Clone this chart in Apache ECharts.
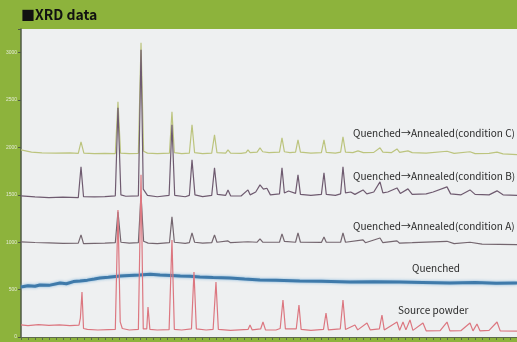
<!DOCTYPE html>
<html>
<head>
<meta charset="utf-8">
<script src="https://cdn.jsdelivr.net/npm/echarts@6/dist/echarts.min.js"></script>
<style>
  html, body { margin: 0; padding: 0; background: #8db33c; }
  #chart { width: 517px; height: 342px; }
</style>
</head>
<body>
<div id="chart"></div>
<script>
// 2θ (deg) / intensity (counts) pairs
const annealedC = [
  [10, 1975], [11.5, 1950], [13, 1943], [15, 1940], [17, 1943], [18.2, 1938], [18.59, 2059], [19, 1940],
  [20.5, 1935], [22, 1938], [23.5, 1935], [23.88, 2482], [24.25, 1940], [25.5, 1935], [26.8, 1938],
  [27.18, 3105], [27.55, 1960], [27.75, 1975], [28.1, 1940], [29.5, 1935], [31.25, 1940], [31.61, 2376],
  [31.95, 1945], [33, 1935], [34.1, 1940], [34.48, 2239], [34.85, 1945], [36, 1935], [37.3, 1940],
  [37.7, 2133], [38.05, 1945], [39.3, 1940], [39.63, 1975], [40, 1940], [41.5, 1938], [42.2, 1945],
  [42.49, 1975], [42.8, 1945], [43.8, 1950], [44.21, 1996], [44.6, 1955], [45.5, 1945], [47, 1950],
  [47.36, 2101], [47.7, 1955], [48.5, 1945], [49.3, 1950], [49.65, 2080], [50, 1950], [51.5, 1940],
  [53, 1945], [53.37, 2080], [53.7, 1948], [55, 1940], [55.75, 1950], [56.09, 2112], [56.45, 1950],
  [57.5, 1945], [58.24, 1964], [59, 1945], [60.5, 1948], [61.39, 1996], [61.8, 1950], [63, 1945],
  [63.82, 1985], [64.2, 1948], [65.39, 1964], [66, 1945], [68, 1940], [70.98, 1960], [72, 1938],
  [74.27, 1955], [75, 1935], [77, 1938], [78.14, 1950], [79, 1932], [81, 1925]
];
const annealedB = [
  [10, 1489], [12, 1478], [14, 1470], [16, 1475], [18.2, 1470], [18.59, 1795], [18.95, 1480], [20.5, 1478],
  [22, 1482], [23.5, 1490], [23.88, 2418], [24.3, 1500], [25, 1485], [26.8, 1490], [27.18, 3031],
  [27.5, 1560], [27.75, 1573], [28.1, 1495], [29.5, 1480], [31.2, 1495], [31.61, 2239], [32, 1495],
  [33.5, 1480], [34.1, 1495], [34.48, 1869], [34.9, 1500], [36, 1482], [37.3, 1495], [37.7, 1785],
  [38.1, 1505], [39.3, 1495], [39.63, 1552], [40, 1490], [41.5, 1488], [42.49, 1552], [42.8, 1500],
  [43.6, 1530], [44.21, 1605], [44.7, 1560], [45.2, 1570], [45.7, 1500], [47, 1510], [47.36, 1785],
  [47.7, 1520], [48.3, 1540], [49.3, 1515], [49.65, 1711], [50, 1505], [51.5, 1495], [53, 1505],
  [53.37, 1732], [53.7, 1505], [55, 1495], [55.75, 1510], [56.09, 1795], [56.45, 1520], [57.2, 1530],
  [57.8, 1505], [58.96, 1552], [59.5, 1510], [60.5, 1530], [61.39, 1637], [61.8, 1520], [62.5, 1530],
  [63.82, 1573], [64.3, 1515], [65.39, 1563], [66, 1505], [68, 1510], [69, 1530], [70.98, 1584],
  [71.5, 1510], [73, 1500], [74.27, 1552], [75, 1505], [77, 1500], [78.14, 1542], [79, 1500], [81, 1495]
];
const annealedA = [
  [10, 1003], [12, 997], [14, 993], [16, 988], [18.2, 990], [18.59, 1077], [18.95, 985], [20.5, 988],
  [22, 990], [23.5, 995], [23.88, 1320], [24.3, 1000], [25.5, 990], [26.8, 995], [27.18, 1500],
  [27.55, 1010], [28.2, 990], [29.5, 985], [31.25, 995], [31.61, 1267], [31.95, 1000], [33.5, 988],
  [34.1, 995], [34.48, 1098], [34.85, 1000], [36, 990], [37.3, 995], [37.7, 1077], [38.05, 1000],
  [39.63, 1014], [40, 995], [42.49, 1005], [43.8, 1000], [44.21, 1035], [44.6, 1000], [47, 1000],
  [47.36, 1088], [47.7, 1010], [49.3, 1000], [49.65, 1098], [50, 1000], [53, 998], [53.37, 1056],
  [53.7, 1000], [55.75, 1000], [56.09, 1098], [56.45, 1000], [58.96, 1024], [59.3, 995], [61.39, 1045],
  [61.8, 995], [63.82, 1014], [64.2, 990], [66, 995], [70.98, 1010], [72, 985], [74.27, 1000], [76, 980],
  [81, 975]
];
const quenched = [
  [10, 528], [11, 540], [12, 535], [12.7, 549], [14, 545], [15.6, 570], [16.5, 562], [17.5, 585],
  [18.45, 591], [19.5, 600], [20.5, 612], [21.3, 623], [22.5, 630], [24.2, 644], [25.5, 650],
  [27, 655], [28.5, 662], [29.9, 655], [31.5, 650], [32.8, 644], [34.2, 640], [35.6, 634], [37.5, 628],
  [39.9, 623], [42, 612], [44.2, 602], [46.5, 598], [49.9, 591], [53, 588], [57.1, 581], [60.5, 584],
  [64.2, 581], [67.5, 576], [71.4, 570], [75, 574], [78, 568], [81, 570]
];
const sourcePowder = [
  [10, 127], [11, 120], [12.5, 130], [14, 122], [15.5, 127], [17, 120], [18.3, 125], [18.5, 200],
  [18.73, 475], [18.95, 90], [19.5, 80], [21, 74], [22.5, 78], [23.5, 80], [23.88, 1341], [24.2, 160],
  [24.5, 90], [25.5, 74], [26.8, 80], [27.18, 1711], [27.5, 85], [28, 85], [28.18, 317], [28.45, 80],
  [29.5, 74], [31.2, 78], [31.61, 1024], [31.95, 80], [33, 74], [34.4, 85], [34.76, 686], [35.1, 85],
  [36.5, 74], [37.5, 80], [37.91, 581], [38.25, 80], [40, 70], [42.5, 80], [42.78, 127], [43.1, 75],
  [44.3, 85], [44.64, 158], [45, 75], [46.5, 74], [47.1, 90], [47.5, 391], [47.85, 85], [49.4, 85],
  [49.79, 338], [50.1, 80], [51.5, 70], [53.3, 80], [53.66, 253], [54, 75], [55.7, 85], [56.09, 391],
  [56.45, 80], [57.8, 127], [58.2, 75], [59.53, 148], [60, 75], [61.3, 85], [61.67, 232], [62, 75],
  [63.82, 158], [64.2, 70], [64.68, 158], [65.1, 75], [65.68, 180], [66.1, 70], [67.54, 148], [68, 65],
  [70, 68], [70.98, 158], [71.4, 65], [73, 68], [74.27, 148], [74.7, 65], [75.27, 137], [75.7, 65],
  [77, 70], [78.14, 158], [78.6, 65], [81, 63]
];
const seriesNames = [
  'Quenched→Annealed(condition C)',
  'Quenched→Annealed(condition B)',
  'Quenched→Annealed(condition A)',
  'Quenched',
  'Source powder'
];
const yTicks = [0, 500, 1000, 1500, 2000, 2500, 3000];

const chart = echarts.init(document.getElementById('chart'), null, { renderer: 'canvas' });

const lineSeries = (name, data, color, width, extra) => ({
  name,
  type: 'line',
  data,
  showSymbol: false,
  silent: true,
  lineStyle: Object.assign({ color, width }, extra || {})
});

const labelFont = '10px "Noto Sans CJK JP", "Noto Sans", sans-serif';
const seriesLabel = (text, x, y) => ({
  type: 'text',
  left: x,
  top: y,
  style: { text, font: labelFont, fill: '#2a2a2a' }
});

chart.setOption({
  animation: false,
  backgroundColor: '#8db33c',
  grid: {
    left: 21,
    right: 0,
    top: 29,
    bottom: 5,
    show: true,
    backgroundColor: '#eef0f1',
    borderWidth: 0
  },
  xAxis: {
    type: 'value',
    min: 10,
    max: 81,
    interval: 1,
    axisLine: { show: true, lineStyle: { color: '#5d6b4a', width: 1 } },
    axisTick: { show: true, length: 3, lineStyle: { color: '#5d6b4a' } },
    axisLabel: { show: false },
    splitLine: { show: false }
  },
  yAxis: {
    type: 'value',
    min: 0,
    max: 3250,
    interval: 500,
    axisLine: { show: true, lineStyle: { color: '#4f5a45', width: 1.5 } },
    axisTick: { show: true, length: 3, lineStyle: { color: '#4f5a45' } },
    axisLabel: {
      fontSize: 5,
      color: '#e4ead6',
      margin: 4,
      formatter: (v) => (yTicks.includes(v) ? String(v) : '')
    },
    splitLine: { show: false }
  },
  series: [
    lineSeries(seriesNames[0], annealedC, '#bcc47e', 1.2),
    lineSeries(seriesNames[1], annealedB, '#6f5b70', 1.2),
    lineSeries(seriesNames[2], annealedA, '#74666f', 1.2),
    lineSeries(seriesNames[3], quenched, '#3f7aaa', 3, {
      shadowColor: 'rgba(110,170,215,0.9)',
      shadowBlur: 3
    }),
    lineSeries(seriesNames[4], sourcePowder, '#dc7780', 1.2)
  ],
  graphic: [
    {
      type: 'text',
      left: 21,
      top: 8,
      style: {
        text: '■XRD data',
        font: 'bold 14px "Noto Sans CJK JP", "Noto Sans", sans-serif',
        fill: '#111'
      }
    },
    seriesLabel(seriesNames[0], 353, 128),
    seriesLabel(seriesNames[1], 353, 171),
    seriesLabel(seriesNames[2], 353, 221),
    seriesLabel(seriesNames[3], 412, 263),
    seriesLabel(seriesNames[4], 398, 305)
  ]
});
</script>
</body>
</html>
